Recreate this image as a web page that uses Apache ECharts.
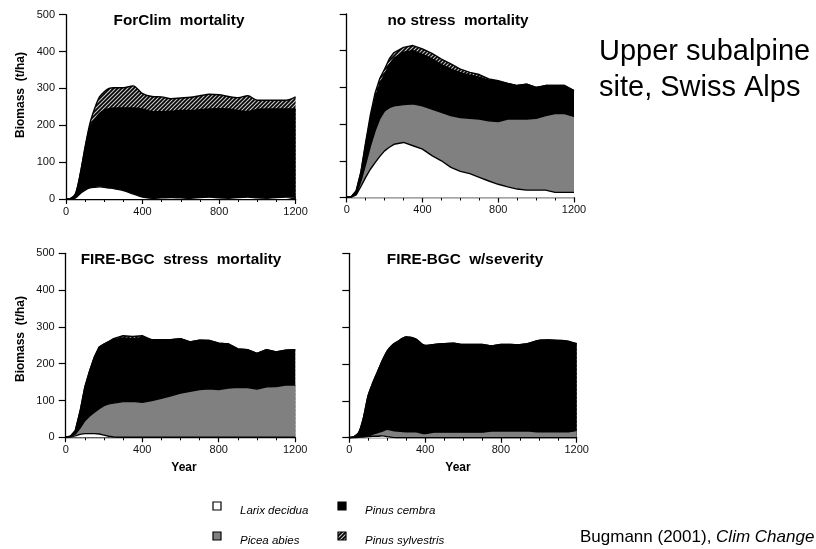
<!DOCTYPE html>
<html><head><meta charset="utf-8">
<script src="https://cdn.jsdelivr.net/npm/echarts@6/dist/echarts.min.js"></script>
<style>html,body{margin:0;padding:0;background:#fff}#c{width:816px;height:549px}</style>
</head><body><div id="c"></div>
<script>
// ---- data ----
const years = [0,25,50,75,100,125,150,175,200,225,250,300,350,400,450,500,550,600,650,700,750,800,850,900,950,1000,1050,1100,1150,1200];
const panelTitles = ['ForClim  mortality','no stress  mortality','FIRE-BGC  stress  mortality','FIRE-BGC  w/severity'];
const speciesNames = ['Larix decidua','Picea abies','Pinus cembra','Pinus sylvestris'];
const yTickValues = [0,100,200,300,400,500];
const xTickValues = [0,400,800,1200];

// Panel 1: ForClim mortality
const larix1  = [0,1,3,15,24,30,32,33,32,30,28,23,14,5,2,3,4,3,2,4,5,3,2,4,5,3,2,4,5,5];
const picea1  = [0,0,0,0,0,0,0,0,0,0,0,0,0,0,0,0,0,0,0,0,0,0,0,0,0,0,0,0,0,0];
const cembra1 = [0,1,10,53,114,165,182,199,209,215,219,224,233,239,235,234,234,237,238,238,239,242,242,236,232,240,242,240,239,239];
const sylv1   = [0,0,2,2,4,10,32,45,50,55,55,55,60,42,41,40,34,34,36,38,40,38,34,35,43,25,24,24,24,33];
// Panel 2: no stress mortality
const larix2  = [0,1,7,30,55,77,95,112,127,137,145,150,141,132,114,100,82,71,65,55,45,36,29,23,20,20,20,14,14,14];
const picea2  = [0,1,2,15,36,63,87,103,109,108,105,103,114,118,127,132,141,147,151,159,164,171,185,191,194,196,203,215,215,207];
const cembra2 = [0,1,9,23,54,75,88,95,99,117,130,143,145,140,137,130,127,122,117,114,111,109,97,91,95,84,82,76,76,70];
const sylv2   = [0,0,0,2,5,10,15,15,15,16,15,13,14,15,15,15,14,10,8,7,3,2,0,0,0,0,0,0,0,0];
// Panel 3: FIRE-BGC stress mortality
const larix3  = [0,1,4,8,10,10,10,9,6,3,1,0,0,0,0,0,0,0,0,0,0,0,0,0,0,0,0,0,0,0];
const picea3  = [0,1,5,17,35,48,58,69,80,88,92,97,98,95,100,106,113,120,125,130,132,130,134,136,135,131,137,138,142,142];
const cembra3 = [0,1,9,45,91,122,150,167,167,169,172,173,170,176,165,159,152,148,134,134,131,126,120,104,103,97,101,94,95,96];
const sylv3   = [0,0,0,0,0,0,0,0,0,0,3,6,6,5,0,0,0,0,0,0,0,0,0,0,0,0,0,0,0,0];
// Panel 4: FIRE-BGC w/severity
const larix4  = [0,0,1,2,3,4,4,5,3,1,0,0,0,0,0,0,0,0,0,0,0,0,0,0,0,0,0,0,0,0];
const picea4  = [0,1,1,1,2,6,10,13,20,19,18,16,16,11,15,15,15,15,15,15,18,18,18,18,18,16,16,16,16,20];
const cembra4 = [0,2,12,52,110,140,166,192,212,230,241,257,252,239,238,240,241,238,238,238,231,235,235,234,238,248,249,248,246,235];
const sylv4   = [0,0,0,0,0,0,0,0,0,0,0,0,0,0,0,0,0,0,0,0,0,0,0,0,0,0,0,0,0,0];

const panels = [
  [larix1, picea1, cembra1, sylv1],
  [larix2, picea2, cembra2, sylv2],
  [larix3, picea3, cembra3, sylv3],
  [larix4, picea4, cembra4, sylv4]
];

// ---- styling ----
function hatchCanvas(n){
  const c = document.createElement('canvas'); c.width = n; c.height = n;
  const g = c.getContext('2d');
  g.fillStyle = '#000'; g.fillRect(0,0,n,n);
  g.strokeStyle = '#c4c4c4'; g.lineWidth = 1.2;
  g.beginPath();
  g.moveTo(-1, n+1); g.lineTo(n+1, -1);
  g.moveTo(-1, 1); g.lineTo(1, -1);
  g.moveTo(n-1, n+1); g.lineTo(n+1, n-1);
  g.stroke();
  return c;
}
const hatch = {image: hatchCanvas(4), repeat: 'repeat'};
const fills = ['#ffffff', '#808080', '#000000', hatch];
const FONT = '"Liberation Sans", Arial, Helvetica, sans-serif';
const panelSmooth = [0.3, 0, 0, 0.3];

const grids = [
  {left: 66, top: 14.7, width: 229.6, height: 184.3},
  {left: 346.7, top: 14, width: 227.3, height: 183.5},
  {left: 65.7, top: 253.3, width: 229.5, height: 184},
  {left: 349.3, top: 253.3, width: 227.4, height: 184.4}
];

const axisLine = {show: true, lineStyle: {color: '#000', width: 1.3}};
const xAxes = grids.map((g, i) => ({
  type: 'value', gridIndex: i, min: xTickValues[0], max: xTickValues[xTickValues.length-1],
  interval: xTickValues[1] - xTickValues[0],
  axisLine, splitLine: {show: false},
  axisTick: {show: true, length: 5, lineStyle: {color: '#000', width: 1.2}},
  minorTick: {show: true, splitNumber: 4, length: 3, lineStyle: {color: '#000', width: 1}},
  axisLabel: {fontSize: 11, color: '#111', margin: 7, fontFamily: FONT, formatter: v => String(v)}
}));
const yAxes = grids.map((g, i) => ({
  type: 'value', gridIndex: i, min: yTickValues[0], max: yTickValues[yTickValues.length-1],
  interval: yTickValues[1] - yTickValues[0],
  axisLine, splitLine: {show: false},
  axisTick: {show: true, length: 7, lineStyle: {color: '#000', width: 1.2}},
  axisLabel: {show: i % 2 === 0, fontSize: 11, color: '#111', margin: 11, fontFamily: FONT, formatter: v => String(v)}
}));

// Layered cumulative areas (top species drawn first, lower species painted over it)
const series = [];
panels.forEach((arrs, p) => {
  const cum = arrs.map((arr, s) => years.map((yr, k) => {
    let t = 0; for (let j = 0; j <= s; j++) t += arrs[j][k]; return t;
  }));
  for (let s = arrs.length - 1; s >= 0; s--) {
    series.push({
      name: speciesNames[s], type: 'line',
      xAxisIndex: p, yAxisIndex: p, symbol: 'none', silent: true,
      smooth: panelSmooth[p],
      data: years.map((yr, k) => [yr, cum[s][k]]),
      lineStyle: {color: '#000', width: 1.4},
      areaStyle: {color: fills[s], opacity: 1, origin: 'start'},
      z: 2 + (arrs.length - s)
    });
  }
});

const graphic = [];
const titlePos = [[179, 21], [458, 21], [181, 260], [465, 260]];
panelTitles.forEach((t, i) => graphic.push({
  type: 'text', x: titlePos[i][0], y: titlePos[i][1], z: 100,
  style: {text: t, font: 'bold 15.3px ' + FONT, fill: '#000', align: 'center', verticalAlign: 'middle'}
}));
[[21, 95], [21, 339]].forEach(p => graphic.push({
  type: 'text', x: p[0], y: p[1], rotation: Math.PI / 2,
  style: {text: 'Biomass  (t/ha)', font: 'bold 12px ' + FONT, fill: '#000', align: 'center', verticalAlign: 'middle'}
}));
[[184, 468], [458, 468]].forEach(p => graphic.push({
  type: 'text', x: p[0], y: p[1],
  style: {text: 'Year', font: 'bold 12px ' + FONT, fill: '#000', align: 'center', verticalAlign: 'middle'}
}));
// legend
const legendPos = [[213, 506], [213, 536], [338, 506], [338, 536]];
speciesNames.forEach((name, s) => {
  const p = legendPos[s];
  graphic.push({type: 'rect', shape: {x: p[0], y: p[1] - 4, width: 8, height: 8},
    style: {fill: fills[s], stroke: '#000', lineWidth: 1.2}});
  graphic.push({type: 'text', x: p[0] + 27, y: p[1] + 5,
    style: {text: name, font: 'italic 11.5px ' + FONT, fill: '#000', align: 'left', verticalAlign: 'middle'}});
});
graphic.push({type: 'text', x: 599, y: 52,
  style: {text: 'Upper subalpine', font: '29px ' + FONT, fill: '#000', align: 'left', verticalAlign: 'middle'}});
graphic.push({type: 'text', x: 599, y: 88,
  style: {text: 'site, Swiss Alps', font: '29px ' + FONT, fill: '#000', align: 'left', verticalAlign: 'middle'}});
graphic.push({type: 'text', x: 580, y: 537,
  style: {text: '{n|Bugmann (2001), }{i|Clim Change}', fill: '#000', align: 'left', verticalAlign: 'middle',
    rich: {n: {font: '17px ' + FONT, fill: '#000'}, i: {font: 'italic 17px ' + FONT, fill: '#000'}}}});

const chart = echarts.init(document.getElementById('c'), null, {renderer: 'canvas'});
chart.setOption({
  animation: false,
  backgroundColor: '#fff',
  grid: grids,
  xAxis: xAxes,
  yAxis: yAxes,
  series,
  graphic
});
</script></body></html>
